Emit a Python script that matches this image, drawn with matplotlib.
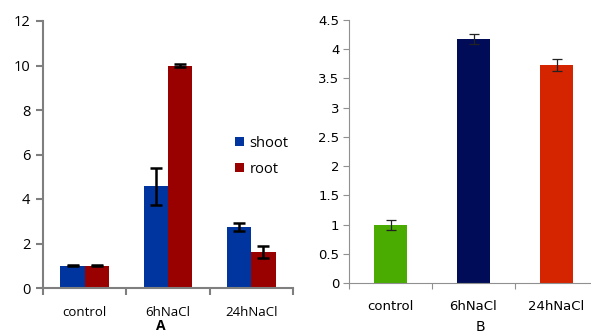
import matplotlib
matplotlib.use("Agg")
import matplotlib.pyplot as plt
import numpy as np

categories = ["control", "6hNaCl", "24hNaCl"]
shoot = [1.0, 4.57, 2.74]
shoot_err = [0.02, 0.83, 0.18]
root = [1.0, 10.0, 1.62]
root_err = [0.02, 0.05, 0.29]

b_values = [0.99, 4.18, 3.73]
b_err = [0.085, 0.085, 0.095]
b_colors = ["#4aab00", "#000c58", "#d42400"]

fig = plt.figure(figsize=(5.91, 3.34), dpi=100)

# ---- Panel A ----
axA = fig.add_axes([43/591, 46/334, 250/591, 267/334])
x = np.arange(len(categories))
w = 0.29
axA.bar(x - w/2, shoot, w, color="#00359f", label="shoot")
axA.bar(x + w/2, root, w, color="#990000", label="root")
axA.errorbar(x - w/2, shoot, yerr=shoot_err, fmt="none", ecolor="black",
             elinewidth=1.8, capsize=4.5, capthick=1.8)
axA.errorbar(x + w/2, root, yerr=root_err, fmt="none", ecolor="black",
             elinewidth=1.8, capsize=4.5, capthick=1.8)
axA.set_xlim(-0.5, 2.5)
axA.set_ylim(0, 12)
axA.set_yticks(np.arange(0, 13, 2))
axA.set_xticks([-0.5, 0.5, 1.5, 2.5])
axA.set_xticklabels([])
axA.set_xticks(x, minor=True)
axA.set_xticklabels(categories, minor=True, fontfamily="Open Sans", fontsize=9.5)
axA.tick_params(axis="x", which="minor", length=0, pad=13)
axA.tick_params(axis="x", which="major", length=5, width=1.5, color="#7f7f7f", direction="out")
axA.tick_params(axis="y", length=5, width=1.5, color="#7f7f7f", direction="out", pad=4)
for lab in axA.get_yticklabels():
    lab.set_fontfamily("Open Sans")
    lab.set_fontsize(10.5)
for s in ["top", "right"]:
    axA.spines[s].set_visible(False)
for s in ["left", "bottom"]:
    axA.spines[s].set_color("#7f7f7f")
    axA.spines[s].set_linewidth(1.5)
leg = axA.legend(loc="upper left", bbox_to_anchor=(0.715, 0.62), frameon=False,
                 handlelength=0.65, handleheight=0.65, handletextpad=0.35,
                 labelspacing=0.75, prop={"family": "Open Sans", "size": 10.5})
fig.text(161/591, 1 - 326/334, "A", ha="center", va="center",
         fontfamily="Open Sans", fontweight="bold", fontsize=10)

# ---- Panel B ----
axB = fig.add_axes([349/591, 51/334, 249/591, 263/334])
axB.bar(x, b_values, 0.4, color=b_colors)
axB.errorbar(x, b_values, yerr=b_err, fmt="none", ecolor="#222222",
             elinewidth=0.9, capsize=3.5, capthick=0.9)
axB.set_xlim(-0.5, 2.5)
axB.set_ylim(0, 4.5)
axB.set_yticks(np.arange(0, 4.6, 0.5))
axB.set_yticklabels(["0", "0.5", "1", "1.5", "2", "2.5", "3", "3.5", "4", "4.5"],
                    fontfamily="DejaVu Sans", fontsize=9.5)
axB.set_xticks([-0.5, 0.5, 1.5, 2.5])
axB.set_xticklabels([])
axB.set_xticks(x, minor=True)
axB.set_xticklabels(categories, minor=True, fontfamily="DejaVu Sans", fontsize=9.5)
axB.tick_params(axis="x", which="minor", length=0, pad=12)
axB.tick_params(axis="x", which="major", length=4, width=0.8, color="#909090", direction="out")
axB.tick_params(axis="y", length=4, width=0.8, color="#909090", direction="out", pad=3)
for s in ["top", "right"]:
    axB.spines[s].set_visible(False)
for s in ["left", "bottom"]:
    axB.spines[s].set_color("#909090")
    axB.spines[s].set_linewidth(0.8)
fig.text(480/591, 1 - 327/334, "B", ha="center", va="center",
         fontfamily="DejaVu Sans", fontsize=10)

fig.savefig("out.png", dpi=100)
